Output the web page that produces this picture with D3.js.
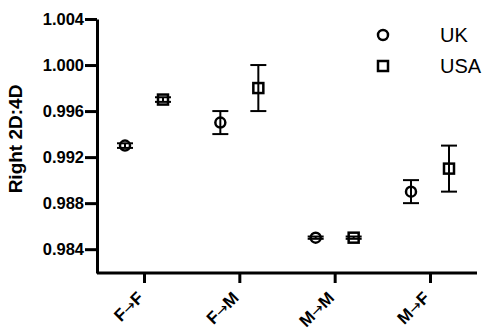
<!DOCTYPE html>
<html>
<head>
<meta charset="utf-8">
<script src="https://cdn.jsdelivr.net/npm/d3@7"></script>
<style>
  body { margin: 0; background: #fff; }
  text { font-family: "Liberation Sans", Arial, sans-serif; }
</style>
</head>
<body>
<svg id="chart" width="494" height="336"></svg>
<script>
// chart data
const categories = ['F\u2192F', 'F\u2192M', 'M\u2192M', 'M\u2192F'];
const series = ['UK', 'USA'];
const ukMean = [0.993, 0.995, 0.985, 0.989];
const ukErr = [0.0002, 0.001, 0.0001, 0.001];
const usaMean = [0.997, 0.998, 0.985, 0.991];
const usaErr = [0.0002, 0.002, 0.0001, 0.002];
const yTicks = [0.984, 0.988, 0.992, 0.996, 1.000, 1.004];

const margin = {top: 19, right: 17, bottom: 63, left: 97},
    width = 494 - margin.left - margin.right,
    height = 336 - margin.top - margin.bottom;

const svg = d3.select('#chart')
    .append('g')
    .attr('transform', 'translate(' + margin.left + ',' + margin.top + ')');

// scales
const x = d3.scalePoint()
    .domain(categories)
    .range([47, 333]);
const offset = d3.scalePoint()
    .domain(series)
    .range([-19, 19]);
const y = d3.scaleLinear()
    .domain([0.98193, 1.004])
    .range([height, 0]);

// Y axis
const yAxis = svg.append('g')
    .call(d3.axisLeft(y).tickValues(yTicks).tickFormat(d3.format('.3f')).tickSize(12).tickSizeOuter(0));
yAxis.select('.domain').attr('stroke-width', 3);
yAxis.selectAll('.tick line').attr('stroke-width', 3);
yAxis.selectAll('.tick text')
    .attr('x', -13)
    .style('font-size', '16.5px')
    .style('font-weight', 'bold')
    .attr('fill', '#000');

// X axis
const xAxis = svg.append('g')
    .attr('transform', 'translate(0,' + height + ')')
    .call(d3.axisBottom(x).tickSize(10).tickSizeOuter(0));
xAxis.select('.domain').attr('d', 'M0,0H' + width).attr('stroke-width', 3);
xAxis.selectAll('.tick line').attr('stroke-width', 3);
xAxis.selectAll('.tick text').remove();
const xLabels = xAxis.selectAll('.tick')
    .append('text')
    .attr('transform', 'translate(0,26) rotate(-45)')
    .attr('text-anchor', 'end')
    .attr('fill', '#000')
    .style('font-size', '17px')
    .style('font-weight', 'bold');
// letters bold, arrow thin from a font that has the glyph
xLabels.each(function(d) {
    const parts = d.split('\u2192');
    const t = d3.select(this);
    t.append('tspan').text(parts[0]);
    t.append('tspan')
        .style('font-family', '"DejaVu Sans"')
        .style('font-weight', 'normal')
        .style('font-size', '15px')
        .text('\u2192');
    t.append('tspan').text(parts[1]);
});

// Y title
svg.append('text')
    .attr('transform', 'translate(' + (-75) + ',' + (height / 2 - 7) + ') rotate(-90)')
    .attr('text-anchor', 'middle')
    .style('font-size', '19px')
    .style('font-weight', 'bold')
    .text('Right 2D:4D');

const data = [];
categories.forEach((c, i) => {
    data.push({cat: c, s: 'UK', m: ukMean[i], e: ukErr[i]});
    data.push({cat: c, s: 'USA', m: usaMean[i], e: usaErr[i]});
});

const cap = 8;
const g = svg.selectAll('.pt')
    .data(data)
    .enter()
    .append('g')
    .attr('transform', d => 'translate(' + (x(d.cat) + offset(d.s)) + ',0)');

// error bars
g.append('line')
    .attr('x1', 0).attr('x2', 0)
    .attr('y1', d => y(d.m + d.e))
    .attr('y2', d => y(d.m - d.e))
    .attr('stroke', '#000').attr('stroke-width', 2);
g.append('line')
    .attr('x1', -cap).attr('x2', cap)
    .attr('y1', d => y(d.m + d.e)).attr('y2', d => y(d.m + d.e))
    .attr('stroke', '#000').attr('stroke-width', 2);
g.append('line')
    .attr('x1', -cap).attr('x2', cap)
    .attr('y1', d => y(d.m - d.e)).attr('y2', d => y(d.m - d.e))
    .attr('stroke', '#000').attr('stroke-width', 2);

// markers
g.filter(d => d.s === 'UK').append('circle')
    .attr('cy', d => y(d.m))
    .attr('r', 5)
    .attr('fill', 'none')
    .attr('stroke', '#000')
    .attr('stroke-width', 2.5);
g.filter(d => d.s === 'USA').append('rect')
    .attr('x', -5)
    .attr('y', d => y(d.m) - 5)
    .attr('width', 10)
    .attr('height', 10)
    .attr('fill', 'none')
    .attr('stroke', '#000')
    .attr('stroke-width', 2.5);

// legend
const legend = svg.append('g').attr('transform', 'translate(286,16)');
series.forEach((s, i) => {
    const row = legend.append('g').attr('transform', 'translate(0,' + (i * 31) + ')');
    if (s === 'UK') {
        row.append('circle').attr('r', 5).attr('fill', 'none')
            .attr('stroke', '#000').attr('stroke-width', 2.5);
    } else {
        row.append('rect').attr('x', -5).attr('y', -5).attr('width', 10).attr('height', 10)
            .attr('fill', 'none').attr('stroke', '#000').attr('stroke-width', 2.5);
    }
    row.append('text')
        .attr('x', 57)
        .attr('dy', '0.36em')
        .style('font-size', '20px')
        .text(s);
});
</script>
</body>
</html>
